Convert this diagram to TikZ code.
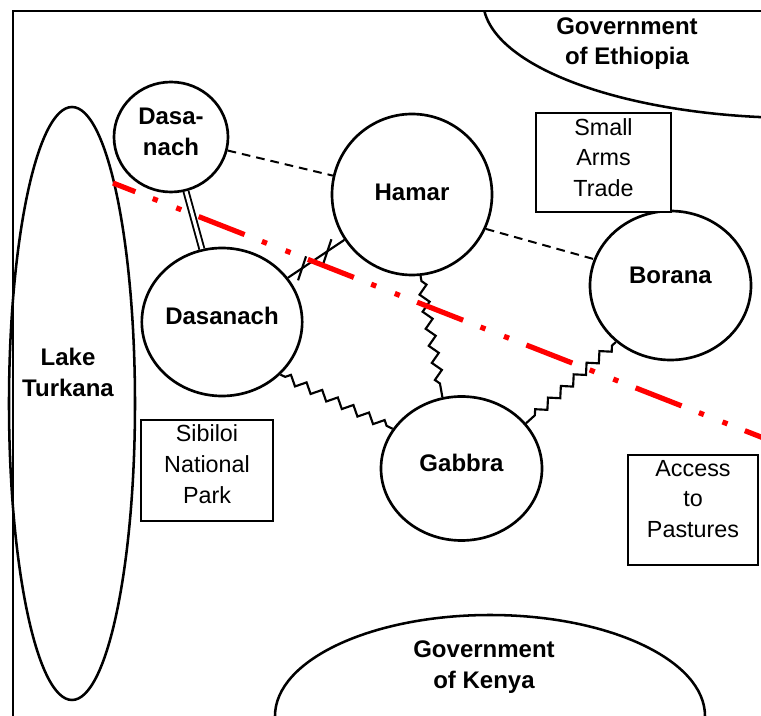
\documentclass[tikz,border=0pt]{standalone}
\usepackage{fontspec}
\setmainfont{Liberation Sans}
\usetikzlibrary{shapes.geometric,decorations.pathmorphing,calc}
\tikzset{
  actor/.style={ellipse,draw,line width=2pt,fill=white,inner sep=0pt,
                align=center,font=\fontsize{18}{23}\selectfont\bfseries},
  lift/.style={text depth=#1},
  topic/.style={rectangle,draw,line width=2.2pt,fill=white,inner sep=0pt,
                align=center,font=\fontsize{17.5}{23}\selectfont},
  govt/.style={ellipse,draw,line width=1.9pt,inner sep=0pt},
  govtxt/.style={align=center,font=\fontsize{18}{23}\selectfont\bfseries},
  strain/.style={line width=1.5pt,dash pattern=on 6.5pt off 4.5pt},
  alliance/.style={double,double distance=2.4pt,line width=1.4pt},
  clash/.style={line width=1.6pt,decorate,
                decoration={zigzag,segment length=13pt,amplitude=3.25pt,
                            pre length=4pt,post length=4pt}},
  rift/.style={line width=1.6pt},
  frontier/.style={red,line width=3.9pt,dash phase=19pt,
                   dash pattern=on 37pt off 14pt on 4pt off 15pt on 4pt off 14pt},
}
\begin{document}
\begin{tikzpicture}[x=0.75pt,y=-0.75pt]
  \useasboundingbox (0,0) rectangle (761,716);
  \clip (0,0) rectangle (761,716);

  % frame
  \draw[line width=2pt] (13,716) -- (13,11) -- (761,11);

  \begin{scope}
    \clip (13,11) rectangle (761,716);
    \node[govt,minimum width=475.5pt,minimum height=177pt] (ethiopia) at (800,0) {};
  \end{scope}
  \node[govtxt] (ethtxt) at (627,43.5) {Government\\of Ethiopia};

  \node[govt,minimum width=322.5pt,minimum height=151.5pt] (kenya) at (490,716) {};
  \node[govtxt] (kentxt) at (484,667) {Government\\of Kenya};

  \node[govt,minimum width=94.5pt,minimum height=444.75pt] (lake) at (72,403.5) {};
  \node[govtxt] (laketxt) at (68,372.5) {Lake\\Turkana};

  % groups
  \node[actor,minimum width=85.5pt,minimum height=82.5pt,lift=7.5pt]
    (dasaeth) at (171,137) {Dasa-\\nach};
  \node[actor,minimum width=120pt,minimum height=120.75pt,lift=3pt]
    (hamar) at (412,194.5) {Hamar};
  \node[actor,minimum width=120pt,minimum height=111pt,lift=9pt]
    (dasaken) at (222,322) {Dasanach};
  \node[actor,minimum width=120.75pt,minimum height=111.75pt,lift=15pt]
    (borana) at (670.5,285.5) {Borana};
  \node[actor,minimum width=120.75pt,minimum height=108pt,lift=8pt]
    (gabbra) at (461.5,468.5) {Gabbra};

  % issues
  \node[topic,minimum width=101.25pt,minimum height=74.25pt,lift=7.5pt]
    (arms) at (603.5,162.5) {Small\\Arms\\Trade};
  \node[topic,minimum width=99pt,minimum height=75.75pt,lift=9.75pt]
    (park) at (207,470.5) {Sibiloi\\National\\Park};
  \node[topic,minimum width=97.5pt,minimum height=82.5pt,lift=17pt]
    (pasture) at (693,510) {Access\\to\\Pastures};

  % relations
  \draw[strain] (dasaeth) -- (hamar);
  \draw[strain] (hamar.-25) -- (borana.161);
  \draw[alliance] (dasaeth) -- (dasaken);
  \draw[rift] (dasaken) -- coordinate[pos=0.25] (tick1)
                           coordinate[pos=0.7] (tick2) (hamar);
  \draw[rift] (tick1) +(-4,12) -- +(4,-12);
  \draw[rift] (tick2) +(-4,12) -- +(4,-12);
  \draw[clash] (hamar.-84) -- (gabbra.105);
  \draw[clash] (dasaken.-42) -- (gabbra.150);
  \draw[clash] (borana.-134) -- (gabbra.35);

  % border
  \coordinate (bstart) at (113,183);
  \coordinate (bend) at (800,452.3);
  \draw[frontier] (bstart) -- (bend);
\end{tikzpicture}
\end{document}
